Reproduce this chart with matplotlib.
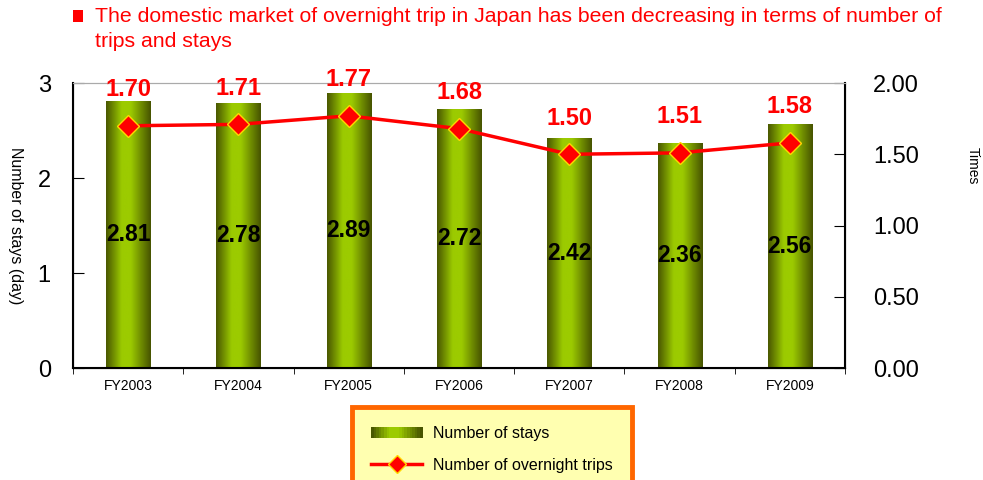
import matplotlib.pyplot as plt
import numpy as np
from matplotlib.colors import LinearSegmentedColormap
from matplotlib.legend_handler import HandlerBase
from matplotlib.patches import Rectangle
from matplotlib.lines import Line2D

plt.rcParams['font.family'] = ['Liberation Sans', 'DejaVu Sans']

years = ["FY2003", "FY2004", "FY2005", "FY2006", "FY2007", "FY2008", "FY2009"]
stays = [2.81, 2.78, 2.89, 2.72, 2.42, 2.36, 2.56]
trips = [1.70, 1.71, 1.77, 1.68, 1.50, 1.51, 1.58]

title = "The domestic market of overnight trip in Japan has been decreasing in terms of number of\ntrips and stays"

# горизонтальный градиент столбиков
bar_cmap = LinearSegmentedColormap.from_list(
    "olive", [(0, "#4a5800"), (0.35, "#9ccb00"), (0.55, "#9ccb00"), (1, "#475400")])
grad = np.linspace(0, 1, 64).reshape(1, -1)


class GradientHandler(HandlerBase):
    def create_artists(self, legend, orig, xd, yd, w, h, fontsize, trans):
        n = 20
        arts = []
        for i in range(n):
            r = Rectangle((xd + w * i / n, yd), w / n + 0.3, h,
                          facecolor=bar_cmap(i / (n - 1)), edgecolor='none',
                          transform=trans)
            arts.append(r)
        return arts


fig = plt.figure(figsize=(9.83, 4.8), dpi=100)
ax = fig.add_axes([0.0743, 0.2333, 0.7853, 0.5937])
ax2 = ax.twinx()

x = np.arange(len(years))
bw = 0.4
for xi, h in zip(x, stays):
    ax.imshow(grad, cmap=bar_cmap, aspect='auto', interpolation='bicubic',
              extent=[xi - bw / 2, xi + bw / 2, 0, h], zorder=2)
    ax.text(xi, h / 2, f"{h:.2f}", ha='center', va='center',
            fontsize=16.5, fontweight='bold', color='black', zorder=5)

ax.set_xlim(-0.5, len(years) - 0.5)
ax.set_ylim(0, 3)
ax.set_yticks([0, 1, 2, 3])
ax.set_xticks(x)
ax.set_xticklabels(years, fontsize=10)
ax.set_xticks(np.arange(-0.5, len(years)), minor=True)
ax.tick_params(axis='x', which='major', length=0, pad=8)
ax.tick_params(axis='x', which='minor', length=4, direction='out')
ax.tick_params(axis='y', direction='in', length=8, labelsize=17, pad=16)
ax.set_ylabel("Number of stays (day)", rotation=270, fontsize=11.5,
              va='center', ha='center')
ax.yaxis.set_label_coords(-0.075, 0.5)
for s in ['left', 'bottom']:
    ax.spines[s].set_linewidth(1.5)
ax.spines['top'].set_color('#aaaaaa')

ax2.plot(x, trips, color='#ff0000', linewidth=2.5, marker='D', markersize=11,
         markerfacecolor='#ff0000', markeredgecolor='#ffd700', markeredgewidth=1,
         zorder=4)
for xi, v in zip(x, trips):
    ax2.annotate(f"{v:.2f}", (xi, v), xytext=(0, 26), textcoords='offset points',
                 ha='center', va='center', fontsize=17, fontweight='bold',
                 color='#ff0000', annotation_clip=False)
ax2.set_ylim(0, 2)
ax2.set_yticks([0, 0.5, 1.0, 1.5, 2.0])
ax2.set_yticklabels(["0.00", "0.50", "1.00", "1.50", "2.00"])
ax2.tick_params(axis='y', direction='in', length=8, labelsize=17, pad=20)
ax2.set_ylabel("Times", rotation=270, fontsize=10, va='center', ha='center')
ax2.yaxis.set_label_coords(1.165, 0.71)
ax2.spines['right'].set_linewidth(1.5)
ax2.spines['top'].set_color('#aaaaaa')
ax.set_zorder(ax2.get_zorder() - 1)
ax2.patch.set_visible(False)

# заголовок с красным квадратиком
fig.patches.append(Rectangle((73 / 983, 1 - 22 / 480), 10 / 983, 12 / 480,
                             transform=fig.transFigure, facecolor='#ff0000',
                             edgecolor='none'))
fig.text(95 / 983, 1 - 7 / 480, title, color='#ff0000', fontsize=15.3,
         ha='left', va='top', linespacing=1.4)

h1 = Rectangle((0, 0), 1, 1)
h2 = Line2D([], [], color='#ff0000', linewidth=2.5, marker='D', markersize=9,
            markerfacecolor='#ff0000', markeredgecolor='#ffd700')
leg = fig.legend([h1, h2], ["Number of stays", "Number of overnight trips"],
                 handler_map={h1: GradientHandler()},
                 loc='upper left', bbox_to_anchor=(352 / 983, 1 - 407 / 480),
                 fontsize=11.5, frameon=True, fancybox=False, handlelength=3.2,
                 borderpad=1.2, labelspacing=1.05, handletextpad=0.7,
                 borderaxespad=0)
fr = leg.get_frame()
fr.set_facecolor('#ffffb0')
fr.set_edgecolor('#ff6600')
fr.set_linewidth(3.5)
fr.set_alpha(1)

fig.savefig("out.png", dpi=100)
